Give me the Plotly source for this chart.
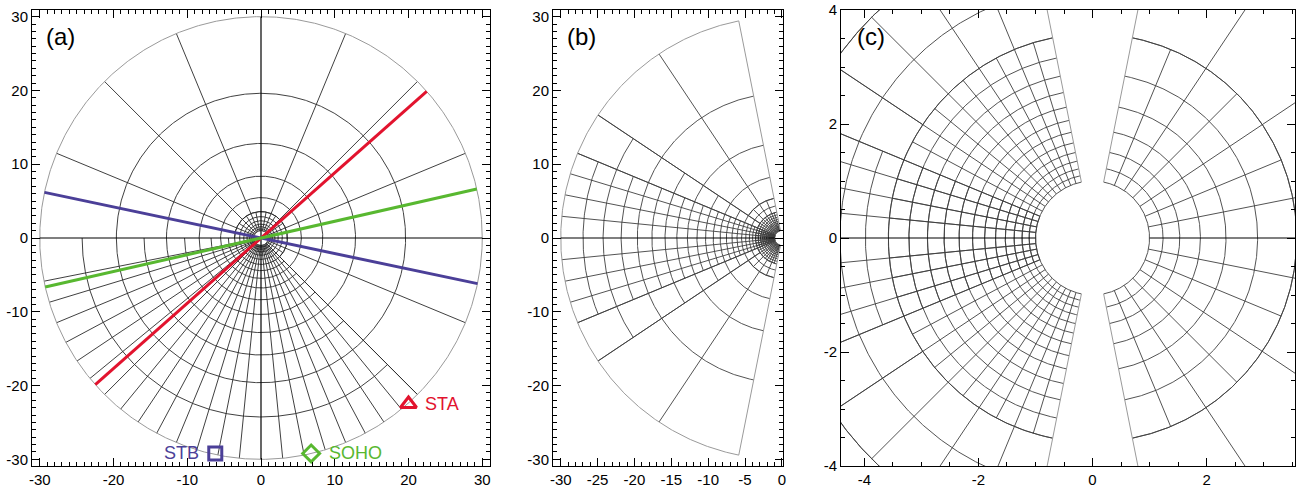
import numpy as np
import plotly.graph_objects as go

# ---------------- data ----------------
R_IN, R_OUT = 1.0, 30.0
N_RAD = [8, 16, 32]              # log-radial cells between R_IN and R_OUT per refinement level
D_ANG = [22.5, 11.25, 5.625]     # angular cell width (deg) per refinement level
R3 = R_OUT ** (3 / 8)
R4 = R_OUT ** (4 / 8)

# blocks: (r_lo, r_hi, ang_lo, ang_hi, radial level, angular level or None)
# panel (a): equatorial plane (angles from +x)
EQ_REF = 0.0
EQ_BLOCKS = [
    (R3, R_OUT, -45.0, 180.0, 0, 0),
    (R_IN, R3, -45.0, 180.0, 1, 1),
    (R_IN, R_OUT, 191.25, 315.0, 1, 2),
    (R_IN, R_OUT, 180.0, 191.25, 1, None),
]
# panels (b),(c): meridional plane
MER_REF = 11.25
MER_LEFT = [
    (R4, R_OUT, 101.25, 146.25, 0, 0),
    (R4, R_OUT, 213.75, 258.75, 0, 0),
    (R3, R4, 101.25, 146.25, 1, 1),
    (R3, R4, 213.75, 258.75, 1, 1),
    (R3, R_OUT, 146.25, 157.5, 1, 1),
    (R3, R_OUT, 202.5, 213.75, 1, 1),
    (R_IN, R_OUT, 157.5, 202.5, 2, 2),
    (R_IN, R3, 101.25, 258.75, 2, 2),
]
MER_RIGHT = [
    (R3, R_OUT, -78.75, 78.75, 0, 0),
    (R_IN, R3, -78.75, 78.75, 1, 1),
]
LEFT_EDGE = [101.25, 258.75]
RIGHT_EDGE = [-78.75, 78.75]

# spacecraft lines of sight and positions (panel a)
SC_NAMES = ["STA", "STB", "SOHO"]
SC_ANGLE = [41.5, -11.9, 12.8]
SC_X = [20.0, -6.2, 6.8]
SC_Y = [-22.5, -29.2, -29.2]
SC_TEXT_X = [22.0, -8.2, 8.9]
SC_SYMBOL = ["triangle-up-open", "square-open", "diamond-open"]
SC_SIZE = [14, 13, 13]
SC_COLOR = ["#E2132E", "#4B3F98", "#58B830"]
SC_ANCHOR = ["left", "right", "left"]

TICKS_A = [-30, -20, -10, 0, 10, 20, 30]
TICKS_BX = [-30, -25, -20, -15, -10, -5, 0]
TICKS_C = [-4, -2, 0, 2, 4]
MINOR_AB = list(range(-31, 32))                     # minor ticks every 1 unit
MINOR_C = [k / 2 for k in range(-9, 10)]            # minor ticks every 0.5 unit
PANEL_LABELS = ["(a)", "(b)", "(c)"]


# ---------------- helpers ----------------
def rnodes(lev, lo, hi):
    n = N_RAD[lev]
    r = R_IN * (R_OUT / R_IN) ** (np.arange(n + 1) / n)
    return r[(r >= lo - 1e-6) & (r <= hi + 1e-6)]


def anodes(lev, lo, hi, ref):
    d = D_ANG[lev]
    k0 = np.ceil((lo - ref) / d - 1e-6)
    k1 = np.floor((hi - ref) / d + 1e-6)
    return ref + d * np.arange(k0, k1 + 1)


def arc(r, a0, a1):
    n = max(2, int(np.ceil(abs(a1 - a0) / 0.4)) + 1)
    t = np.radians(np.linspace(a0, a1, n))
    return list(r * np.cos(t)) + [None], list(r * np.sin(t)) + [None]


def ray(a, r0, r1):
    t = np.radians(a)
    return [r0 * np.cos(t), r1 * np.cos(t), None], [r0 * np.sin(t), r1 * np.sin(t), None]


def angle_in(a, lst):
    return any(abs(((a - s + 180) % 360) - 180) < 1e-6 for s in lst)


def grid(blocks, ref, skip_angles):
    xs, ys = [], []
    for (rlo, rhi, alo, ahi, lr, la) in blocks:
        for r in rnodes(lr, rlo, rhi):
            if abs(r - R_OUT) < 1e-6:
                continue
            x, y = arc(r, alo, ahi)
            xs += x; ys += y
        if la is not None:
            for a in anodes(la, alo, ahi, ref):
                if angle_in(a, skip_angles):
                    continue
                x, y = ray(a, rlo, rhi)
                xs += x; ys += y
    return xs, ys


fig = go.Figure()


def add_lines(xs, ys, color, width, ax):
    fig.add_trace(go.Scatter(x=xs, y=ys, mode="lines", line=dict(color=color, width=width),
                             hoverinfo="skip", xaxis="x" + ax, yaxis="y" + ax, showlegend=False))


GRID_A = "#2a2a2a"
GRID_M = "#404040"
EDGE = "#9a9a9a"

# ---------- panel (a) ----------
xs, ys = grid(EQ_BLOCKS, EQ_REF, [0, 90, 180, 270])
add_lines(xs, ys, GRID_A, 0.9, "")
x, y = arc(R_OUT, 0, 360)
add_lines(x, y, EDGE, 1, "")
add_lines([-R_OUT, R_OUT, None, 0, 0], [0, 0, None, -R_OUT, R_OUT], "black", 1.2, "")
for ang, col in zip(SC_ANGLE, SC_COLOR):
    t = np.radians(ang)
    add_lines([-R_OUT * np.cos(t), R_OUT * np.cos(t)], [-R_OUT * np.sin(t), R_OUT * np.sin(t)], col, 3, "")
for i in range(len(SC_NAMES)):
    fig.add_trace(go.Scatter(x=[SC_X[i]], y=[SC_Y[i]], mode="markers",
                             marker=dict(symbol=SC_SYMBOL[i], size=SC_SIZE[i], color=SC_COLOR[i],
                                         line=dict(color=SC_COLOR[i], width=3)),
                             hoverinfo="skip", showlegend=False, xaxis="x", yaxis="y"))
    fig.add_annotation(x=SC_TEXT_X[i], y=SC_Y[i], xref="x", yref="y", text=SC_NAMES[i], showarrow=False,
                       xanchor=SC_ANCHOR[i], yanchor="middle",
                       font=dict(family="Liberation Sans, Arial", size=18, color=SC_COLOR[i]))


# ---------- panels (b) and (c) ----------
def meridional(ax, right):
    xs, ys = grid(MER_LEFT, MER_REF, LEFT_EDGE + [180])
    if right:
        x2, y2 = grid(MER_RIGHT, MER_REF, RIGHT_EDGE + [0])
        xs += x2; ys += y2
    add_lines(xs, ys, GRID_M, 0.9, ax)
    ex, ey = arc(R_OUT, LEFT_EDGE[0], LEFT_EDGE[1])
    for a in LEFT_EDGE:
        x, y = ray(a, R_IN, R_OUT); ex += x; ey += y
    if right:
        x, y = arc(R_OUT, RIGHT_EDGE[0], RIGHT_EDGE[1]); ex += x; ey += y
        for a in RIGHT_EDGE:
            x, y = ray(a, R_IN, R_OUT); ex += x; ey += y
    add_lines(ex, ey, EDGE, 1, ax)
    hx, hy = [-R_OUT, -R_IN, None], [0, 0, None]
    if right:
        hx += [R_IN, R_OUT]; hy += [0, 0]
    add_lines(hx, hy, "black", 1.2, ax)


meridional("2", False)
meridional("3", True)

# ---------------- layout ----------------
W, H = 1297, 491
FONT = dict(family="Liberation Sans, Arial, Helvetica", size=15, color="black")


def axis(dom_px, rng, tickvals, minorvals, anchor, horizontal):
    if horizontal:
        dom = [dom_px[0] / W, dom_px[1] / W]
    else:
        dom = [1 - dom_px[1] / H, 1 - dom_px[0] / H]
    return dict(domain=dom, range=rng, tickmode="array", tickvals=tickvals,
                ticktext=[str(int(v)) for v in tickvals], ticks="inside", ticklen=8, tickwidth=1,
                tickcolor="black", showline=True, linecolor="black", linewidth=1, mirror="ticks",
                showgrid=False, zeroline=False, anchor=anchor, fixedrange=True, tickfont=FONT,
                automargin=False,
                minor=dict(tickmode="array", tickvals=minorvals, ticks="inside", ticklen=4, tickwidth=1,
                           tickcolor="black", showgrid=False))


YDOM = (10, 466)
fig.update_layout(
    template="none",
    width=W, height=H, margin=dict(l=0, r=0, t=0, b=0, autoexpand=False),
    paper_bgcolor="white", plot_bgcolor="white", showlegend=False,
    xaxis=axis((32, 490), [-31.05, 31.05], TICKS_A, MINOR_AB, "y", True),
    yaxis=axis(YDOM, [-30.9, 30.9], TICKS_A, MINOR_AB, "x", False),
    xaxis2=axis((553, 783), [-31.05, 0.15], TICKS_BX, MINOR_AB, "y2", True),
    yaxis2=axis(YDOM, [-30.9, 30.9], TICKS_A, MINOR_AB, "x2", False),
    xaxis3=axis((841, 1295), [-4.41, 3.55], TICKS_C, MINOR_C, "y3", True),
    yaxis3=axis(YDOM, [-4.0, 4.0], TICKS_C, MINOR_C, "x3", False),
)

for lab, px in zip(PANEL_LABELS, [60, 581, 871]):
    fig.add_annotation(x=px / W, y=1 - 37 / H, xref="paper", yref="paper", text=lab, showarrow=False,
                       xanchor="center", yanchor="middle",
                       font=dict(family="Liberation Sans, Arial", size=24, color="black"))

fig.write_html("out.html", config={"displayModeBar": False, "staticPlot": True},
               post_script="document.body.style.margin='0';document.body.style.overflow='hidden';")
